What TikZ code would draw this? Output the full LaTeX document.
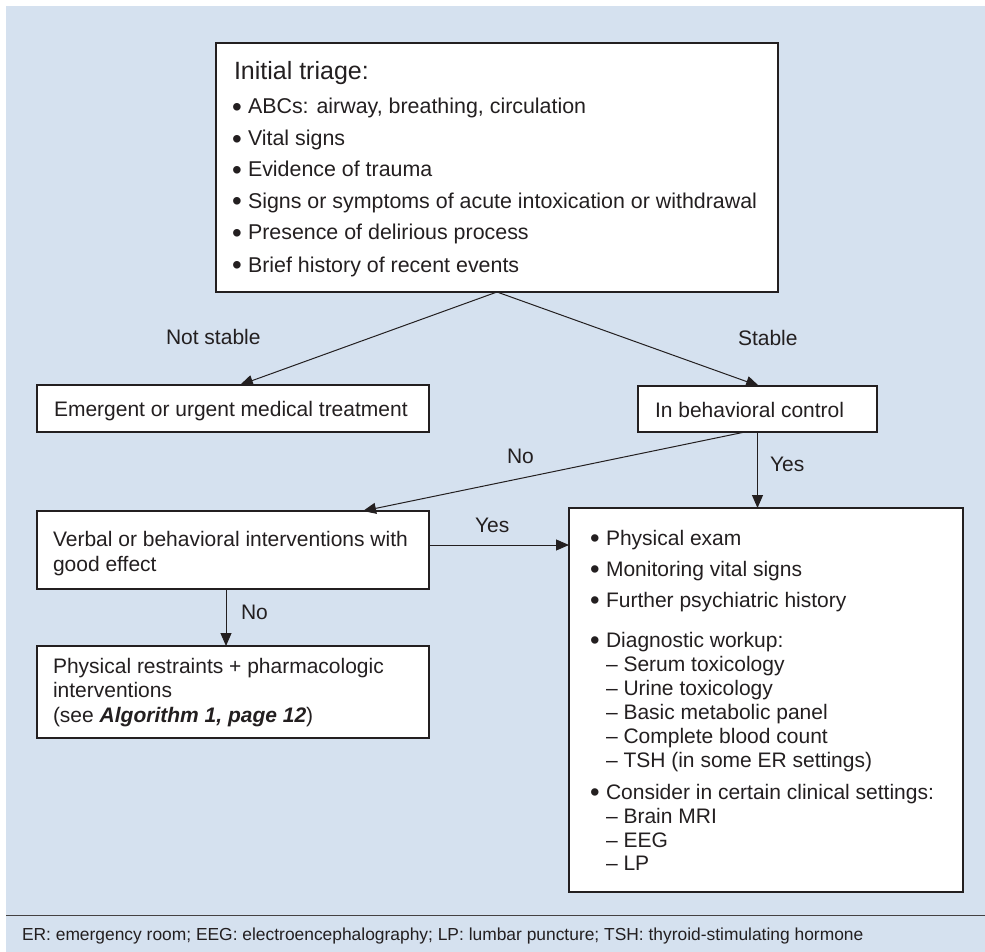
\documentclass[tikz,border=0pt]{standalone}
\usepackage{fontspec}
\setmainfont{Liberation Sans}
\usetikzlibrary{arrows.meta,fit,calc}
\definecolor{bgblue}{RGB}{213,225,239}
\definecolor{ink}{RGB}{35,31,32}
\newcommand\bigbul{\raisebox{-0.1em}{\scalebox{1.3}{•}}}
\begin{document}
\begin{tikzpicture}[x=1pt,y=-1pt,
  box/.style={draw=ink,line width=1.2pt,fill=white,inner sep=0pt,outer sep=0pt},
  conn/.style={draw=ink,line width=1pt,-{Triangle[length=13pt,width=11pt]}},
  txt/.style={anchor=base west,inner sep=0pt,outer sep=0pt,text=ink,font=\fontsize{21}{24}\selectfont},
  ttxt/.style={txt,font=\fontsize{21.4}{24}\selectfont},
  head/.style={txt,font=\fontsize{25}{28}\selectfont},
  foot/.style={txt,font=\fontsize{17.4}{20}\selectfont}]
\useasboundingbox (0,0) rectangle (985,952);
\fill[white] (0,0) rectangle (985,952);
\fill[bgblue] (6,6) rectangle (985,952);

% boxes
\node[box,fit={(216,43)(778,292)}] (tri) {};
\node[box,fit={(37,385)(429,432)}] (emg) {};
\node[box,fit={(638,386)(877,432)}] (beh) {};
\node[box,fit={(37,511)(429,589)}] (verb) {};
\node[box,fit={(37,646)(429,738)}] (phys) {};
\node[box,fit={(569,508)(963,892)}] (rbox) {};

% triage text
\node[head] (t0) at (234,80) {Initial triage:};
\foreach \yy/\tt [count=\i] in {114/{ABCs: airway, breathing, circulation},146/{Vital signs},177/{Evidence of trauma},208/{Signs or symptoms of acute intoxication or withdrawal},240/{Presence of delirious process},272/{Brief history of recent events}}{
  \node[ttxt] (tb\i) at (232,\yy) {\bigbul};
  \node[ttxt] (tt\i) at (248,\yy) {\tt};
}

\node[txt] (emgt) at (54,416) {Emergent or urgent medical treatment};
\node[txt] (beht) at (655,417) {In behavioral control};
\node[txt] (verbt1) at (53,546) {Verbal or behavioral interventions with};
\node[txt] (verbt2) at (53,571) {good effect};
\node[txt] (physt1) at (53,673) {Physical restraints + pharmacologic};
\node[txt] (physt2) at (53,697) {interventions};
\node[txt] (physt3) at (53,722) {(see \textbf{\textit{Algorithm 1, page 12}})};

% right box text
\foreach \yy/\tt [count=\i] in {545/{Physical exam},576/{Monitoring vital signs},607/{Further psychiatric history},647/{Diagnostic workup:},799/{Consider in certain clinical settings:}}{
  \node[txt] (rb\i) at (590,\yy) {\bigbul};
  \node[txt] (rt\i) at (606,\yy) {\tt};
}
\foreach \yy/\tt [count=\i] in {671/{Serum toxicology},695/{Urine toxicology},719/{Basic metabolic panel},743/{Complete blood count},767/{TSH (in some ER settings)},823/{Brain MRI},847/{EEG},870/{LP}}{
  \node[txt] (rs\i) at (606,\yy) {– \tt};
}

% connectors
\draw[conn] (tri.south) -- ([xshift=7pt]emg.north);
\draw[conn] (tri.south) -- ([xshift=1.5pt]beh.north);
\draw[conn] ([xshift=-12.5pt]beh.south) -- ([xshift=130pt]verb.north);
\draw[conn] (beh.south) -- (beh.south |- rbox.north);
\coordinate (ya) at ([yshift=5pt]verb.east);
\draw[conn] (ya) -- (ya -| rbox.west);
\draw[conn] ([xshift=-7pt]verb.south) -- ([xshift=-7pt]phys.north);

% labels
\node[txt] (lns) at (166,344) {Not stable};
\node[txt] (ls) at (738,345) {Stable};
\node[txt] (lno1) at (507,463) {No};
\node[txt] (lyes1) at (770,471) {Yes};
\node[txt] (lyes2) at (475,532) {Yes};
\node[txt] (lno2) at (241,619) {No};

% footer
\draw[ink!85,line width=1pt] (6,915) -- (985,915);
\node[foot] (ft) at (22,940) {ER: emergency room; EEG: electroencephalography; LP: lumbar puncture; TSH: thyroid-stimulating hormone};
\end{tikzpicture}
\end{document}
